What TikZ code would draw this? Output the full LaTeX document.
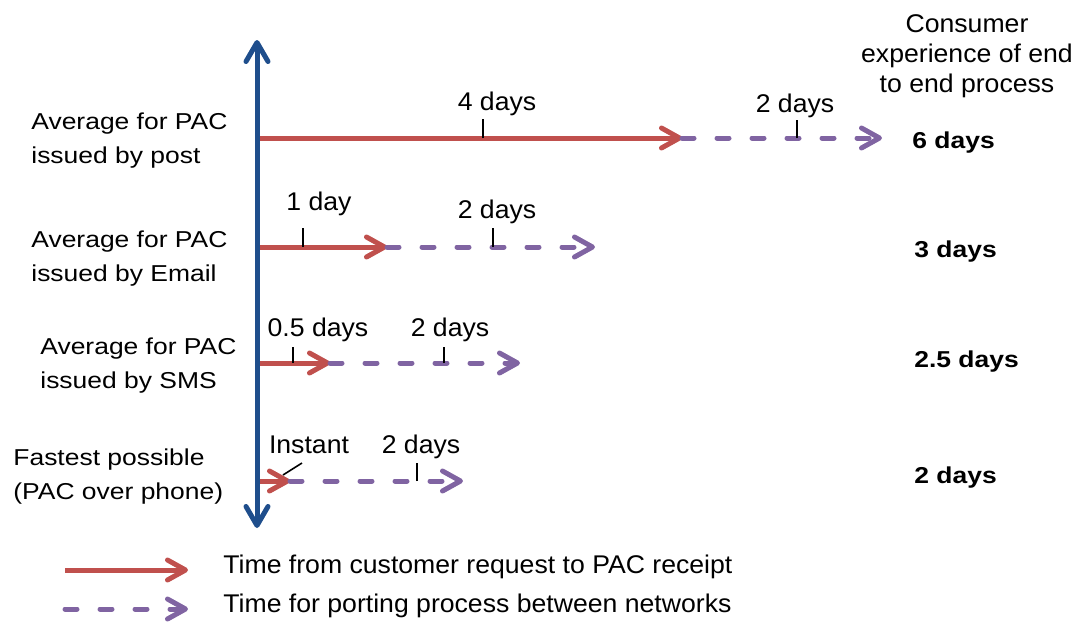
\documentclass[tikz,border=0pt]{standalone}
\usepackage{fontspec}
\setmainfont{Liberation Sans}
\newfontfamily\labelfont{Liberation Sans}[FakeStretch=1.15]
\newfontfamily\notefont{Liberation Sans}[FakeStretch=1.04]
\usetikzlibrary{arrows.meta}
\definecolor{axisblue}{HTML}{1F4E8C}
\definecolor{pacred}{HTML}{C0504D}
\definecolor{portpurple}{HTML}{8064A2}

\begin{document}
\begin{tikzpicture}[x=0.5pt,y=-0.5pt,
  rowlabel/.style={inner sep=0pt, align=left, anchor=west, font=\labelfont\fontsize{11.5}{17}\selectfont},
  result/.style={inner sep=0pt, anchor=base west, font=\labelfont\bfseries\fontsize{11.5}{17}\selectfont},
  note/.style={inner sep=0pt, anchor=base, font=\notefont\fontsize{12.8}{15}\selectfont},
  header/.style={inner sep=0pt, align=center, font=\notefont\fontsize{12.8}{15}\selectfont},
  legendtext/.style={inner sep=0pt, anchor=base west, font=\notefont\fontsize{12.8}{15}\selectfont},
  barb/.tip={Straight Barb[length=9pt,width=10pt,round]},
  bigbarb/.tip={Straight Barb[length=9.5pt,width=11pt,round]},
  pac/.style={draw=pacred, line width=2.5pt, -barb},
  port/.style={draw=portpurple, line width=2.5pt, line cap=round, dash pattern=on 6pt off 11.5pt, -barb},
  timeaxis/.style={draw=axisblue, line width=2.5pt, bigbarb-bigbarb},
  tickmark/.style={draw=black, line width=0.8pt},
]
\useasboundingbox (0,0) rectangle (1084,628);

% ---- points on the time axis and along each row ----
\coordinate (axtop) at (257,40);
\coordinate (axbot) at (257,528);

\coordinate (s1) at (257,138); \coordinate (m1) at (682,138); \coordinate (e1) at (882,138);
\coordinate (s2) at (257,247); \coordinate (m2) at (387,247); \coordinate (e2) at (595,247);
\coordinate (s3) at (257,363); \coordinate (m3) at (330,363); \coordinate (e3) at (520,363);
\coordinate (s4) at (257,481); \coordinate (m4) at (290,481); \coordinate (e4) at (463,481);

% ---- row labels ----
\node[rowlabel] (lpost)  at (31,141)  {Average for PAC\\issued by post};
\node[rowlabel] (lemail) at (31,259)  {Average for PAC\\issued by Email};
\node[rowlabel] (lsms)   at (40,366) {Average for PAC\\issued by SMS};
\node[rowlabel] (lphone) at (13,477)  {Fastest possible\\(PAC over phone)};

% ---- end-to-end column ----
\node[header] (hdr) at (967,56.5) {Consumer\\experience of end\\to end process};
\node[result] (r1) at (912,148) {6 days};
\node[result] (r2) at (914,257) {3 days};
\node[result] (r3) at (914,367) {2.5 days};
\node[result] (r4) at (914,483) {2 days};

% ---- time bars ----
\draw[pac]  (s1) -- (m1);
\draw[port] (m1) -- (e1);
\draw[pac]  (s2) -- (m2);
\draw[port] (m2) -- (e2);
\draw[pac]  (s3) -- (m3);
\draw[port] (m3) -- (e3);
\draw[pac]  (s4) -- (m4);
\draw[port] (m4) -- (e4);

% ---- tick marks and duration notes ----
\coordinate (t1a) at (483,138); \coordinate (t1b) at (797,138);
\coordinate (t2a) at (303,247); \coordinate (t2b) at (493,247);
\coordinate (t3a) at (293,363); \coordinate (t3b) at (444,363);
\coordinate (t4a) at (283,475); \coordinate (t4b) at (417,481);

\draw[tickmark] (t1a) -- ++(0,-19);
\draw[tickmark] (t1b) -- ++(0,-18);
\draw[tickmark] (t2a) -- ++(0,-19);
\draw[tickmark] (t2b) -- ++(0,-19);
\draw[tickmark] (t3a) -- ++(0,-16);
\draw[tickmark] (t3b) -- ++(0,-16);
\draw[tickmark] (t4a) -- ++(19,-12);
\draw[tickmark] (t4b) -- ++(0,-18);

\node[note] (n1a) at (497,110) {4 days};
\node[note] (n1b) at (795,112) {2 days};
\node[note] (n2a) at (319,210) {1 day};
\node[note] (n2b) at (497,218) {2 days};
\node[note] (n3a) at (318,336) {0.5 days};
\node[note] (n3b) at (450,336) {2 days};
\node[note] (n4a) at (309,453) {Instant};
\node[note] (n4b) at (421,453) {2 days};

% ---- time axis ----
\draw[timeaxis] (axbot) -- (axtop);

% ---- legend ----
\coordinate (ka) at (65,570);  \coordinate (kb) at (188,570);
\coordinate (kc) at (65,609);  \coordinate (kd) at (188,609);
\draw[pac]  (ka) -- (kb);
\draw[port] (kc) -- (kd);
\node[legendtext] (k1) at (223,573) {Time from customer request to PAC receipt};
\node[legendtext] (k2) at (223,612) {Time for porting process between networks};
\end{tikzpicture}
\end{document}
